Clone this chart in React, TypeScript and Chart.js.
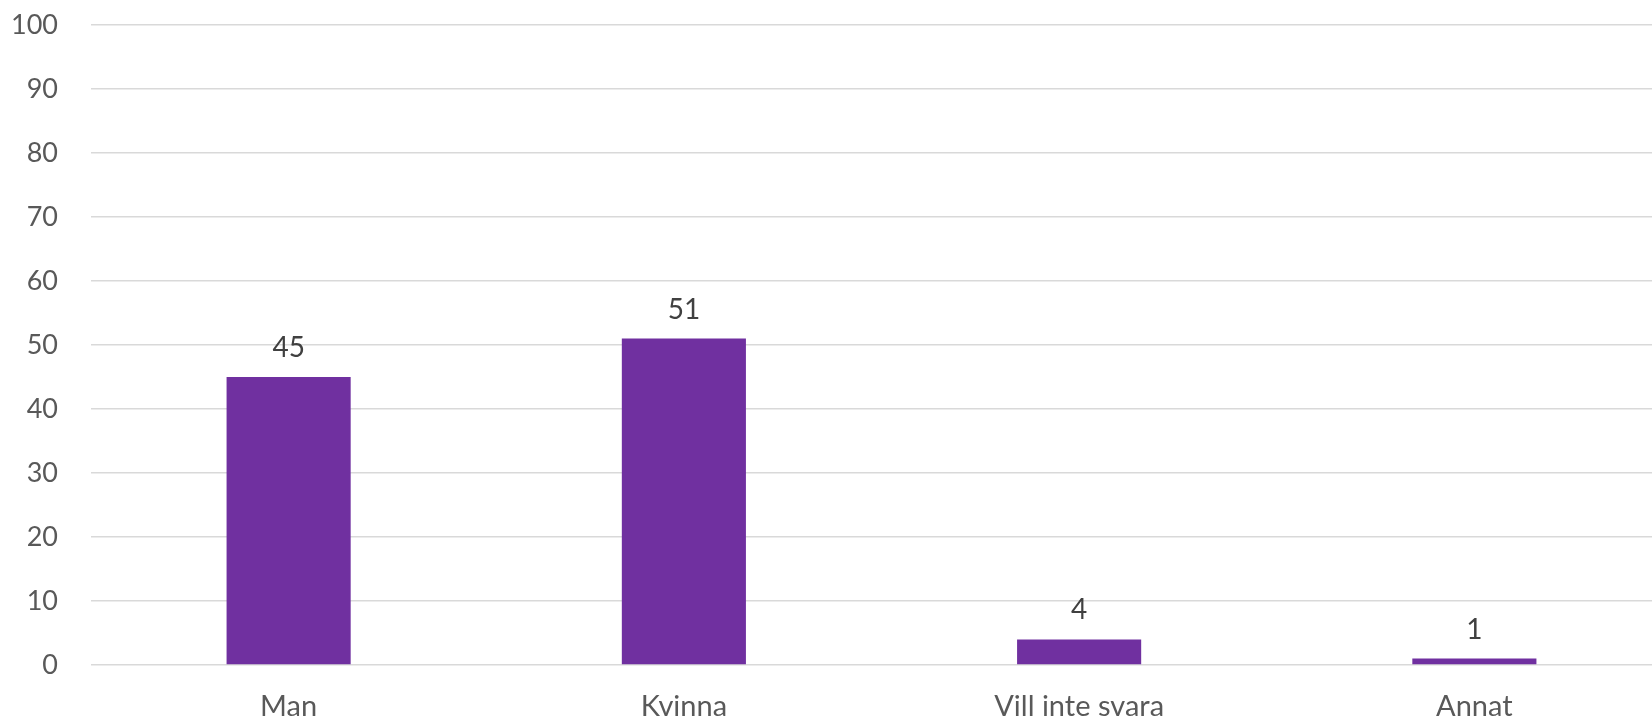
import React, { useEffect, useRef } from "react";
import { Chart, registerables } from "chart.js";

Chart.register(...registerables);

const categories = ["Man", "Kvinna", "Vill inte svara", "Annat"];
const values = [45, 51, 4, 1];
const yTicks = [0, 10, 20, 30, 40, 50, 60, 70, 80, 90, 100];

const FONT = "Lato, 'Open Sans', sans-serif";

const dataLabelPlugin = {
  id: "dataLabels",
  afterDatasetsDraw(chart: any) {
    const ctx = chart.ctx;
    const meta = chart.getDatasetMeta(0);
    ctx.save();
    ctx.font = `28px ${FONT}`;
    ctx.fillStyle = "#404040";
    ctx.textAlign = "center";
    ctx.textBaseline = "bottom";
    meta.data.forEach((bar: any, i: number) => {
      ctx.fillText(String(values[i]), bar.x, bar.y - 15);
    });
    ctx.restore();
  },
};

export default function App() {
  const ref = useRef<HTMLCanvasElement | null>(null);
  useEffect(() => {
    if (!ref.current) return;
    const chart = new Chart(ref.current, {
      type: "bar",
      data: {
        labels: categories,
        datasets: [
          {
            data: values,
            backgroundColor: "#7030A0",
            categoryPercentage: 1,
            barPercentage: 0.314,
          },
        ],
      },
      options: {
        responsive: false,
        animation: false,
        layout: { padding: { top: 25, left: 0, right: 0, bottom: 0 } },
        plugins: { legend: { display: false }, tooltip: { enabled: false } },
        scales: {
          x: {
            grid: { display: false, drawTicks: false },
            border: { display: false },
            ticks: {
              color: "#595959",
              font: { family: FONT, size: 29 },
              padding: 24,
              maxRotation: 0,
            },
            afterFit: (s: any) => {
              s.height = 56;
              s.paddingLeft = 0;
              s.paddingRight = 0;
            },
          },
          y: {
            min: 0,
            max: 100,
            afterBuildTicks: (s: any) => {
              s.ticks = yTicks.map((v) => ({ value: v }));
            },
            grid: { color: "#d9d9d9", lineWidth: 1.5, drawTicks: false },
            border: { display: false },
            ticks: {
              color: "#595959",
              font: { family: FONT, size: 27 },
              padding: 33,
            },
            afterFit: (s: any) => {
              s.width = 91;
              s.paddingTop = 0;
              s.paddingBottom = 0;
            },
          },
        },
      },
      plugins: [dataLabelPlugin],
    });
    return () => chart.destroy();
  }, []);
  return (
    <div
      style={{
        position: "absolute",
        left: 0,
        top: 0,
        width: 1652,
        height: 721,
        overflow: "hidden",
        background: "#fff",
      }}
    >
      <canvas ref={ref} width={1672} height={721} />
    </div>
  );
}
